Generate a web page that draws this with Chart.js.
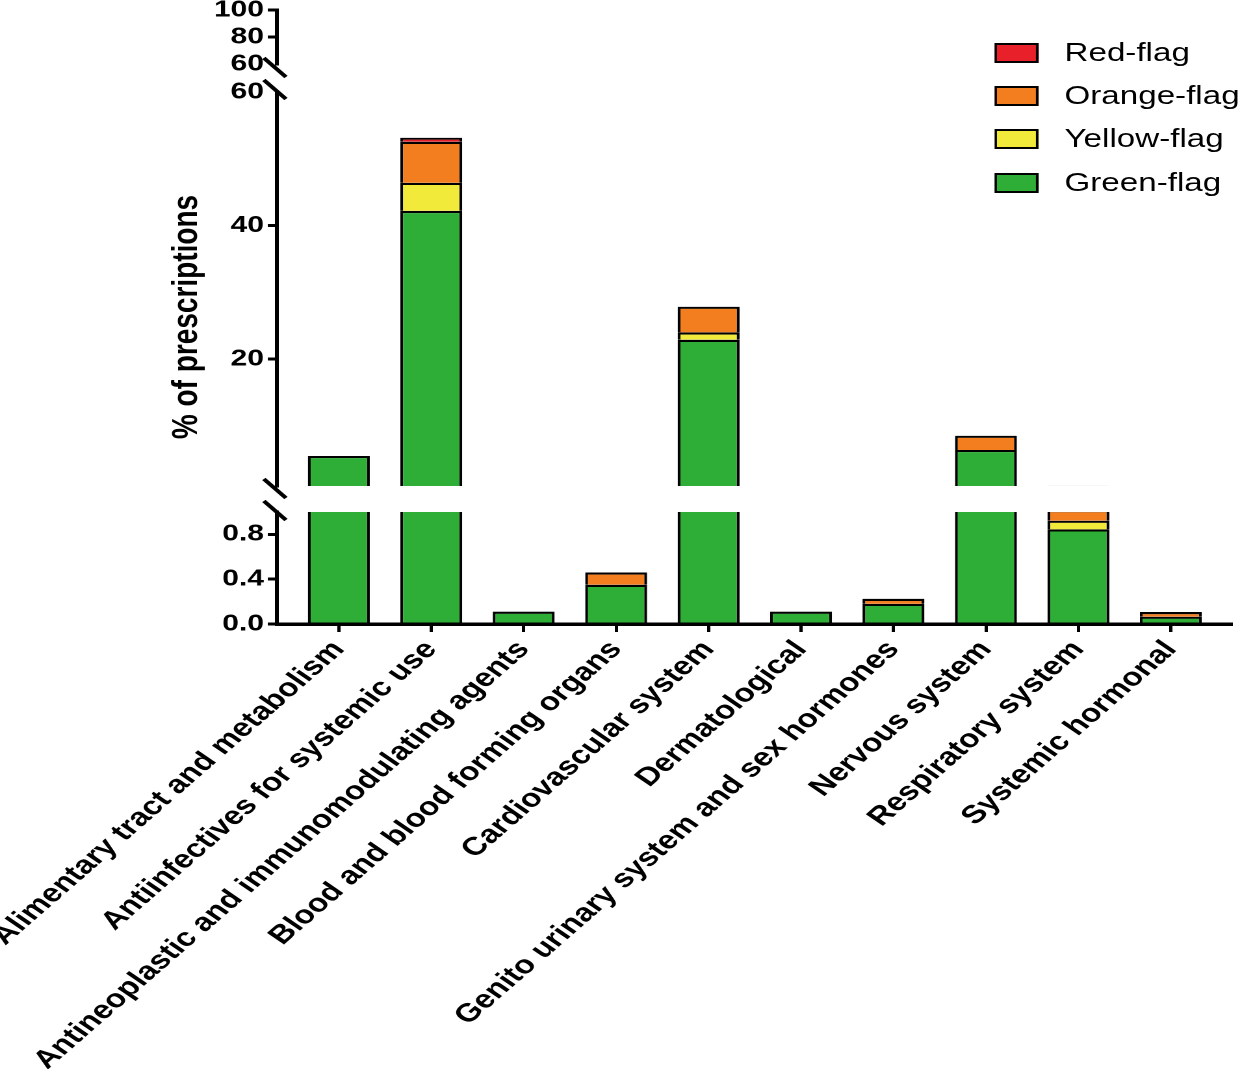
<!DOCTYPE html>
<html>
<head>
<meta charset="utf-8">
<script src="https://cdn.jsdelivr.net/npm/chart.js@4.4.1/dist/chart.umd.min.js"></script>
<style>
  html, body { margin: 0; padding: 0; background: #fff; overflow: hidden; }
  /* the figure is drawn narrow and stretched sideways, like the original */
  #wrap { position: absolute; left: 0; top: 0; width: 954px; height: 1069px;
          transform: scaleX(1.2998); transform-origin: 0 0; }
  #legend { position: absolute; left: 765px; top: 43px; font-family: "Liberation Sans", Arial, sans-serif;
            font-size: 25.5px; color: #000; }
  .row { position: relative; height: 43.2px; white-space: nowrap; }
  .box { position: absolute; left: 0; top: 0; width: 30px; height: 16px; border: 2px solid #000; }
  .txt { position: absolute; left: 54px; top: -5px; line-height: 29px; }
</style>
</head>
<body>
<div id="wrap">
  <canvas id="chart"></canvas>
  <div id="legend"></div>
</div>
<script>
const categories = [
  "Alimentary tract and metabolism",
  "Antiinfectives for systemic use",
  "Antineoplastic and immunomodulating agents",
  "Blood and blood forming organs",
  "Cardiovascular system",
  "Dermatological",
  "Genito urinary system and sex hormones",
  "Nervous system",
  "Respiratory system",
  "Systemic hormonal"
];

// % of prescriptions per flag, bottom of the stack first
const greenFlag  = [5.5, 42.2, 0.11, 0.35, 22.9, 0.11, 0.18, 6.4, 0.845, 0.065];
const yellowFlag = [0, 4.2, 0, 0, 1.1, 0, 0, 0, 0.077, 0];
const orangeFlag = [0, 6.15, 0, 0.11, 3.85, 0, 0.045, 2.13, 0.095, 0.042];
const redFlag    = [0, 0.6, 0, 0, 0, 0, 0, 0, 0, 0];

const flagNames = ["Green-flag", "Yellow-flag", "Orange-flag", "Red-flag"];
const flagColors = ["#2eae37", "#f1ea3a", "#f27e1f", "#e8202a"];
const flagValues = [greenFlag, yellowFlag, orangeFlag, redFlag];

// broken y axis: three pieces
const topTicks = [60, 80, 100];
const midTicks = [20, 40, 60];
const lowTicks = [0, 0.4, 0.8];

const FONT = '"Liberation Sans", Arial, sans-serif';
Chart.defaults.font.family = FONT;
Chart.defaults.color = "#000";

const segments = ["yTop", "yMid", "yBot"];

const datasets = [];
segments.forEach(axis => {
  flagValues.forEach((vals, k) => {
    datasets.push({
      label: flagNames[k],
      xAxisID: "x",
      yAxisID: axis,
      data: vals.map((v, i) => ({ x: i, y: v || null })),
      backgroundColor: flagColors[k],
      borderColor: "#000",
      borderWidth: 2.2,
      borderSkipped: "start",
      barPercentage: 0.67,
      categoryPercentage: 1,
      inflateAmount: 0,
      clip: 0
    });
  });
});

const hide60 = ctx => (ctx.tick && ctx.tick.value === 60) ? "rgba(0,0,0,0)" : "#000";

const noPad = scale => {
  scale.paddingTop = 0;
  scale.paddingBottom = 0;
};

const pieceAxis = (min, max, ticks, weight, stackWeight, digits) => ({
  type: "linear",
  position: "left",
  stack: "y",
  stackWeight: stackWeight,
  weight: weight,
  stacked: true,
  min: min,
  max: max,
  bounds: "data",
  offset: false,
  border: { display: true, color: "#000", width: 3 },
  grid: { display: true, offset: false, drawOnChartArea: false, tickLength: 7, lineWidth: 3, color: hide60 },
  ticks: {
    autoSkip: false,
    padding: 3,
    font: { size: 23, weight: "bold" },
    color: "#000",
    callback: v => v.toFixed(digits)
  },
  afterBuildTicks: scale => { scale.ticks = ticks.map(v => ({ value: v })); },
  afterFit: scale => { scale.width = 50; noPad(scale); }
});

const gapAxis = (weight, stackWeight) => ({
  type: "linear",
  position: "left",
  stack: "y",
  stackWeight: stackWeight,
  weight: weight,
  min: 0,
  max: 1,
  border: { display: false },
  grid: { display: false },
  ticks: { display: false },
  afterFit: scale => { scale.width = 50; noPad(scale); }
});

const axisBreaks = {
  id: "axisBreaks",
  afterDraw(chart) {
    const s = chart.scales;
    const ctx = chart.ctx;
    const x = s.yMid.right - 1.5;
    const ends = [s.yTop.bottom + 3.5, s.yMid.top - 2.5, s.yMid.bottom + 2.5, s.yBot.top - 1.5];
    ctx.save();
    ctx.strokeStyle = "#000";
    ctx.lineWidth = 3.5;
    ends.forEach(y => {
      ctx.beginPath();
      ctx.moveTo(x - 8.5, y - 9.5);
      ctx.lineTo(x + 8.5, y + 9.5);
      ctx.stroke();
    });
    ctx.restore();
  }
};

const ctx = document.getElementById("chart").getContext("2d");
const chart = new Chart(ctx, {
  type: "bar",
  data: { datasets: datasets },
  plugins: [axisBreaks],
  options: {
    responsive: true,
    maintainAspectRatio: false,
    animation: false,
    devicePixelRatio: 2,
    layout: { padding: { left: 123, top: 10, right: 7, bottom: 0 } },
    plugins: { legend: { display: false }, tooltip: { enabled: false } },
    scales: {
      x: {
        type: "linear",
        position: "bottom",
        stacked: true,
        min: -0.67,
        max: 9.65,
        bounds: "data",
        offset: false,
        border: { display: true, color: "#000", width: 3.5 },
        grid: { display: true, offset: false, drawOnChartArea: false, tickLength: 8, lineWidth: 2.5, color: "#000" },
        ticks: {
          autoSkip: false,
          minRotation: 48.5,
          maxRotation: 48.5,
          padding: 3,
          font: { size: 25.5, weight: "bold" },
          color: "#000",
          callback: (v, i) => categories[i]
        },
        afterBuildTicks: scale => { scale.ticks = categories.map((c, i) => ({ value: i })); },
        afterFit: scale => { scale.height = 445; scale.paddingLeft = 0; scale.paddingRight = 0; }
      },
      yTitle: {
        type: "linear",
        position: "left",
        weight: 10,
        min: 0,
        max: 1,
        border: { display: false },
        grid: { display: false },
        ticks: { display: false },
        title: {
          display: true,
          text: "% of prescriptions",
          color: "#000",
          padding: { top: 4, bottom: 4 },
          font: { size: 28, weight: "bold" }
        },
        afterFit: scale => { scale.width = 40; noPad(scale); }
      },
      yTop: pieceAxis(60, 100, topTicks, 5, 54, 0),
      gap1: gapAxis(4, 28),
      yMid: pieceAxis(1, 60, midTicks, 3, 394, 0),
      gap2: gapAxis(2, 26),
      yBot: pieceAxis(0, 1, lowTicks, 1, 112, 1)
    }
  }
});

// legend, red on top like the stack
const legend = document.getElementById("legend");
for (let k = flagNames.length - 1; k >= 0; k--) {
  const row = document.createElement("div");
  row.className = "row";
  const box = document.createElement("span");
  box.className = "box";
  box.style.background = flagColors[k];
  const txt = document.createElement("span");
  txt.className = "txt";
  txt.textContent = flagNames[k];
  row.appendChild(box);
  row.appendChild(txt);
  legend.appendChild(row);
}
</script>
</body>
</html>
